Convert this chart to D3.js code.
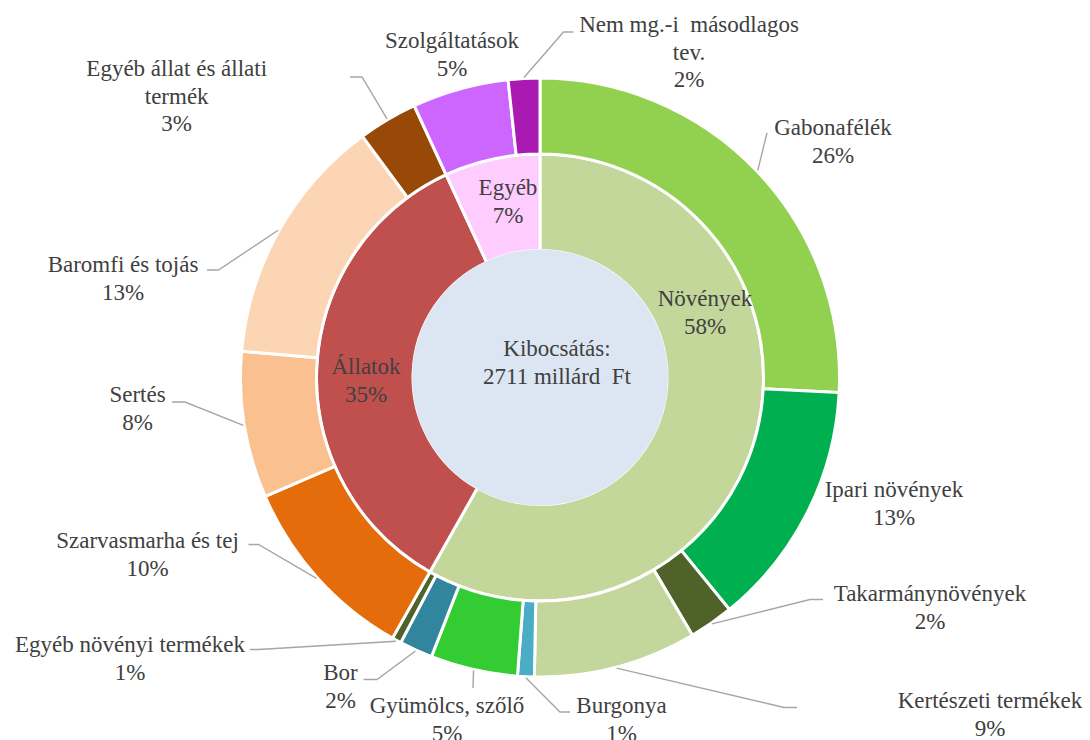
<!DOCTYPE html>
<html><head><meta charset="utf-8">
<script src="https://cdn.jsdelivr.net/npm/d3@7"></script>
</head><body style="margin:0;background:#fff"><svg id="c" width="1090" height="740"></svg>
<script>
// ---- data ----
const outerCategories = ["Gabonafélék","Ipari növények","Takarmánynövények","Kertészeti termékek","Burgonya","Gyümölcs, szőlő","Bor","Egyéb növényi termékek","Szarvasmarha és tej","Sertés","Baromfi és tojás","Egyéb állat és állati\ntermék","Szolgáltatások","Nem mg.-i \u00A0másodlagos\ntev."];
const outerValues = [25.8,13.3,2.4,8.8,0.9,4.7,1.8,0.5,10.3,7.9,13.5,3.2,5.2,1.7];
const outerPctLabels = ["26%","13%","2%","9%","1%","5%","2%","1%","10%","8%","13%","3%","5%","2%"];
const outerColors = ["#92D050","#00B050","#4F6228","#C3D69B","#4BACC6","#33CC33","#31859C","#4F6228","#E46C0A","#FAC090","#FCD5B5","#984807","#CC66FF","#A91AB3"];
const innerCategories = ["Növények","Állatok","Egyéb"];
const innerValues = [58.2,34.9,6.9];
const innerPctLabels = ["58%","35%","7%"];
const innerColors = ["#C4D79B","#C0504D","#FFCCFF"];
const centerLines = ["Kibocsátás:","2711 millárd \u00A0Ft"];

// ---- layout ----
const W=1090,H=740,cx=540,cy=377.5;
const rCenter=128, rInner0=127, rInner1=223.5, rOuter1=299.5;
const lineH=27.5;
const FONT="Liberation Serif", FSIZE=23, TCOL="#404040";
const outerLabelLayout = [
  {x:833,y:135,leader:[[767,133]]},
  {x:894,y:497,leader:null},
  {x:930,y:601,leader:[[810,599.5],[823,599.5]]},
  {x:990,y:708,leader:[[784,707.5],[797,707.5]]},
  {x:621.5,y:713,leader:[[560,712],[570,712]]},
  {x:447,y:713,leader:[[473,688]]},
  {x:340.5,y:680,leader:[[377,679.5],[363.5,679.5]]},
  {x:130,y:652,leader:[[258.5,649.5],[250,649.5]]},
  {x:147.5,y:548,leader:[[258.5,544.5],[248.5,544.5]]},
  {x:137.5,y:402,leader:[[185,402],[172,402]]},
  {x:123,y:272,leader:[[218.5,270],[207,270]]},
  {x:176.7,y:76,leader:[[362,77],[350,77]]},
  {x:452,y:48,leader:null},
  {x:689,y:32,leader:[[563.5,32],[573.5,32]]}
];
const innerLabelLayout = [{x:705,y:306},{x:366,y:374},{x:508,y:195}];

const svg=d3.select("#c");
const g=svg.append("g").attr("transform",`translate(${cx},${cy})`);
const pie=d3.pie().sort(null).value(d=>d).startAngle(0).endAngle(2*Math.PI);
const outerArcs=pie(outerValues), innerArcs=pie(innerValues);
const arcOuter=d3.arc().innerRadius(rInner1).outerRadius(rOuter1);
const arcInner=d3.arc().innerRadius(rInner0).outerRadius(rInner1);

g.selectAll("path.in").data(innerArcs).join("path").attr("class","in")
  .attr("d",arcInner).attr("fill",(d,i)=>innerColors[i]).attr("stroke","#fff").attr("stroke-width",3);
g.selectAll("path.out").data(outerArcs).join("path").attr("class","out")
  .attr("d",arcOuter).attr("fill",(d,i)=>outerColors[i]).attr("stroke","#fff").attr("stroke-width",3);
g.append("circle").attr("r",rCenter).attr("fill","#DCE6F2");

function multiText(x,y,lines){
  const t=svg.append("text").attr("text-anchor","middle").attr("x",x).attr("y",y)
    .attr("font-family",FONT).attr("font-size",FSIZE).attr("fill",TCOL);
  lines.forEach((d,k)=>t.append("tspan").attr("x",x).attr("dy",k?lineH:0).text(d));
}

multiText(557,356,centerLines);

const leaderLine=d3.line();
outerArcs.forEach((a,i)=>{
  const L=outerLabelLayout[i]; if(!L.leader) return;
  const m=(a.startAngle+a.endAngle)/2, r=rOuter1+1;
  const p0=[cx+r*Math.sin(m), cy-r*Math.cos(m)];
  svg.append("path").attr("d",leaderLine([p0,...L.leader])).attr("fill","none")
    .attr("stroke","#A6A6A6").attr("stroke-width",1.4);
});

outerArcs.forEach((a,i)=>{
  const L=outerLabelLayout[i];
  multiText(L.x,L.y,outerCategories[i].split("\n").concat([outerPctLabels[i]]));
});
innerArcs.forEach((a,i)=>{
  const L=innerLabelLayout[i];
  multiText(L.x,L.y,[innerCategories[i],innerPctLabels[i]]);
});
</script>
</body></html>
